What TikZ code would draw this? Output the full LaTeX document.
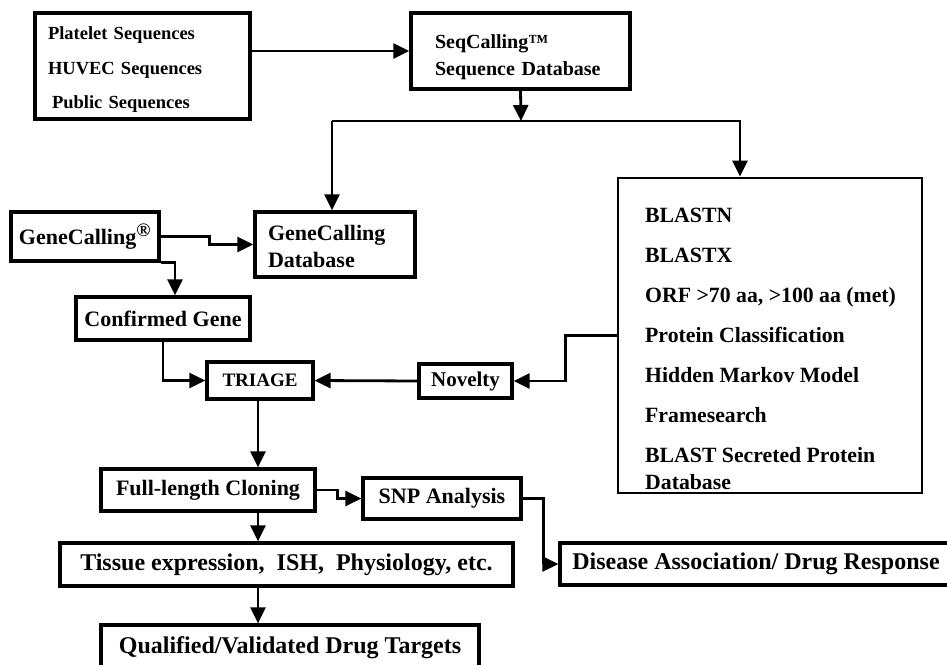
\documentclass[tikz,border=0pt]{standalone}
\usepackage{fontspec}
\setmainfont{Liberation Serif}
\usetikzlibrary{arrows.meta,calc}
\begin{document}
\begin{tikzpicture}[x=1pt,y=-1pt,
  box/.style={draw, line width=3.2pt, inner sep=0pt, font=\bfseries},
  arr/.style={-{Triangle[length=16pt,width=15pt]}, line width=2.8pt},
  ln/.style={line width=2.8pt},
  fs/.style 2 args={font=\bfseries\fontsize{#1}{#2}\selectfont}]
\useasboundingbox[fill=white] (0,0) rectangle (947,664);
% boxes
\node[box, minimum width=215pt, minimum height=106pt] (src) at (142.5,66) {};
\node[fs={18.5}{34.5}, text width=189pt, align=left, inner sep=0pt] (srctext) at (142.5,70)
  {Platelet Sequences\\HUVEC Sequences\\\hspace*{4pt}Public Sequences};
\node[box, minimum width=219pt, minimum height=76pt] (seq) at (520.5,51) {};
\node[fs={20}{27}, text width=171pt, align=left, inner sep=0pt] (seqtext) at (520.5,57.5)
  {SeqCalling™\\Sequence Database};
\node[box, minimum width=160pt, minimum height=65pt] (gcdb) at (335,244.5) {};
\node[fs={22}{27}, text width=134pt, align=left, inner sep=0pt] (gcdbtext) at (335,246.5)
  {GeneCalling\\Database};
\node[box, fs={22}{27}, minimum width=148pt, minimum height=49pt] (gc) at (85,236.5)
  {GeneCalling\textsuperscript{\fontsize{19}{19}\selectfont ®}};
\node[box, fs={22}{27}, minimum width=174pt, minimum height=43pt] (conf) at (163,318.5) {Confirmed Gene};
\node[box, fs={19}{24}, minimum width=106pt, minimum height=37pt] (triage) at (260,380.5) {TRIAGE};
\node[box, fs={21}{26}, minimum width=93pt, minimum height=34pt] (nov) at (465.5,381) {Novelty};
\node[box, line width=2.8pt, minimum width=304pt, minimum height=315pt] (right) at (770,335.5) {};
\node[fs={21.75}{40}, anchor=north west, inner sep=0pt, align=left] (rtext) at (645,208)
  {BLASTN\\BLASTX\\ORF >70 aa, >100 aa (met)\\Protein Classification\\Hidden Markov Model\\Framesearch\\BLAST Secreted Protein\\[-13pt]Database};
\node[box, fs={22}{27}, minimum width=214pt, minimum height=42pt] (full) at (208,490) {Full-length Cloning};
\node[box, fs={22}{27}, minimum width=158pt, minimum height=41pt] (snp) at (442,498.5) {SNP Analysis};
\node[box, fs={24}{29}, minimum width=453pt, minimum height=43pt] (tissue) at (286.5,564.5) {Tissue expression,\ \ ISH,\ \ Physiology, etc.};
\node[box, fs={24}{29}, minimum width=392pt, minimum height=42pt] (disease) at (756,564) {Disease Association/ Drug Response};
\node[box, fs={24}{29}, minimum width=378pt, minimum height=45pt] (qual) at (290,647.5) {Qualified/Validated Drug Targets};
% connectors
\coordinate (bus) at (521,121);
\draw[arr] (src.east |- seq.west) -- (seq.west);
\draw[arr] (seq.south) -- (bus);
\draw[ln] (bus) -- ([xshift=-3pt]gcdb.north |- bus);
\draw[arr] ([xshift=-3pt]gcdb.north |- bus) -- ([xshift=-3pt]gcdb.north);
\draw[arr] (bus) -| ([xshift=-30pt]right.north);
\draw[arr] (gc.east) -- ++(49,0) |- (gcdb.west);
\draw[arr] (gc.south east) -| ([xshift=12pt]conf.north);
\draw[arr] (conf.south) |- (triage.west);
\draw[arr] (right.west) -| ($(nov.east)+(52,0)$) -- (nov.east);
\draw[arr] (nov.west) -- (triage.east);
\draw[arr] ([xshift=-2pt]triage.south) -- ([xshift=-2pt]triage.south |- full.north);
\draw[arr] (full.east) -- ++(21,0) |- (snp.west);
\draw[arr] (snp.east) -- ++(21,0) |- (disease.west);
\draw[arr] ([xshift=-2pt]triage.south |- full.south) -- ([xshift=-2pt]triage.south |- tissue.north);
\draw[arr] ([xshift=-2pt]triage.south |- tissue.south) -- ([xshift=-2pt]triage.south |- qual.north);
\end{tikzpicture}
\end{document}
